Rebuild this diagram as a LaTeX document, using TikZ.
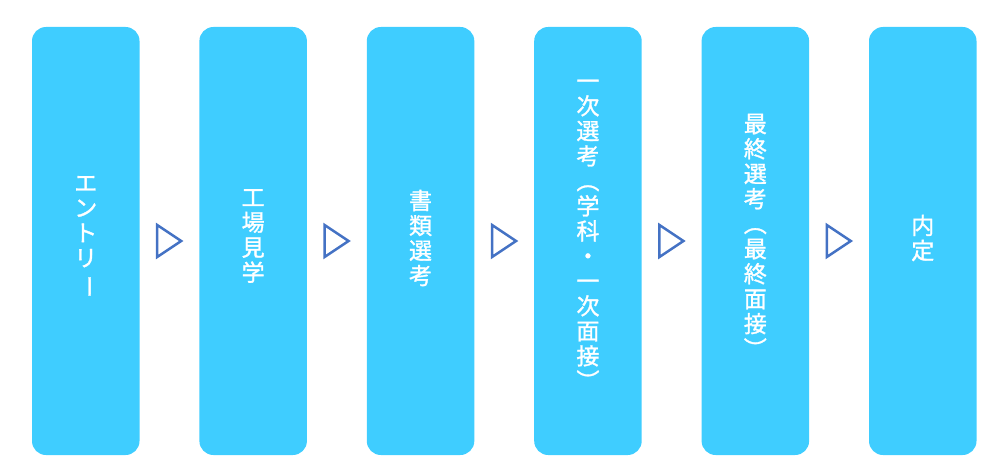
\documentclass[tikz,border=0pt]{standalone}
\usepackage{fontspec}
\usepackage{graphicx}
\newfontfamily\cjk{Noto Sans CJK JP}[FakeBold=1.3]
\definecolor{boxblue}{HTML}{3FCDFF}
\definecolor{arrowblue}{HTML}{4472C4}
\newcommand{\vrot}[1]{\rotatebox[origin=c]{-90}{#1}}
\begin{document}
\begin{tikzpicture}[x=1pt,y=-1pt,
  stepbox/.style={rectangle, rounded corners=14pt, fill=boxblue, draw=none,
    minimum width=107.5pt, minimum height=428pt, inner sep=0pt},
  steptext/.style={text=white, align=center, inner sep=0pt,
    font=\cjk\fontsize{23}{25}\selectfont},
  tri/.style={draw=arrowblue, line width=2.5pt, fill=none}]
\useasboundingbox (0,0) rectangle (995,476);
\foreach \i in {0,...,5}{
  \node[stepbox] (b\i) at ({85.75+167.4*\i},241) {};
}
\foreach \i in {0,...,4}{
  \coordinate (t\i) at ({169.45+167.4*\i},241);
  \draw[tri] (t\i) ++(-12.25,-16) -- ++(24,16) -- ++(-24,16) -- cycle;
}
\node[steptext] (l0) at (b0.center |- 0,237) {エ\\ン\\ト\\リ\\\vrot{ー}};
\node[steptext] (l1) at (b1.center |- 0,236) {工\\場\\見\\学};
\node[steptext] (l2) at (b2.center |- 0,238) {書\\類\\選\\考};
\node[steptext] (l3) at (b3.center |- 0,236) {一\\次\\選\\考\\\vrot{（}\\学\\科\\・\\一\\次\\面\\接\\\vrot{）}};
\node[steptext] (l4) at (b4.center |- 0,237) {最\\終\\選\\考\\\vrot{（}\\最\\終\\面\\接\\\vrot{）}};
\node[steptext] (l5) at (b5.center |- 0,238) {内\\定};
\end{tikzpicture}
\end{document}
